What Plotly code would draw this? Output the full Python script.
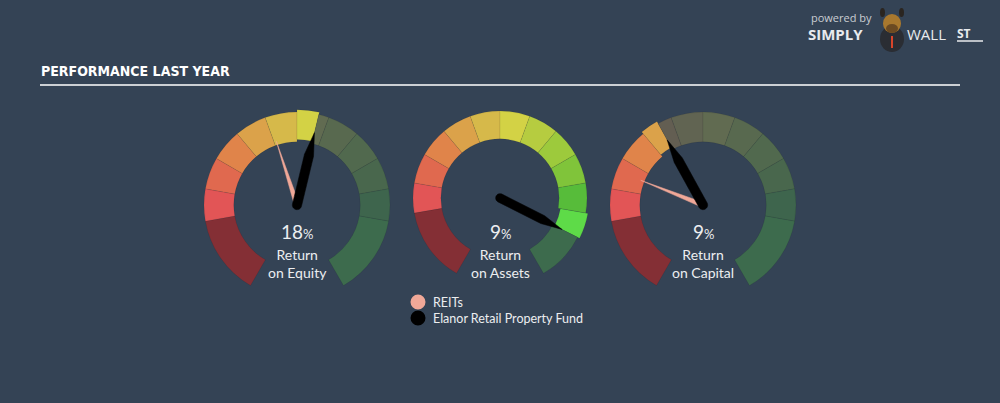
import numpy as np
import plotly.graph_objects as go

# ---------------- data ----------------
metric_labels = ["Return<br>on Equity", "Return<br>on Assets", "Return<br>on Capital"]
company_name = "Elanor Retail Property Fund"
industry_name = "REITs"
company_values = [18, 9, 9]            # %
industry_values = [13.0, None, 4.0]    # %
gauge_max = [31.7, 8.3, 25.3]          # value reached at the end of the coloured scale
title_text = "PERFORMANCE LAST YEAR"

# ---------------- style ----------------
W, H = 1000, 403
BG = "#344355"
TXT = "#eceef0"
slot_edges = [-150, -100, -80, -60, -40, -20, 0, 20, 40, 60, 80, 100, 150]
slot_colors = ["#842f35", "#e25556", "#e0694f", "#e0844a", "#dba24a", "#d6b94a",
               "#d3d245", "#b6cc40", "#9dca3c", "#80c43a", "#57bc3a", "#5edb48"]
DIM_LAST = "#3d6b4d"
A0, A1 = -100, 100
centers = [(297, 205), (500, 198), (703, 205)]
radii = [93, 87, 93]
R_IN, R_OUT, SHIFT, RMAX = 0.68, 1.0, 0.025, 1.05


def hex2rgb(c):
    c = c.lstrip("#")
    return [int(c[i:i + 2], 16) for i in (0, 2, 4)]


def blend(c, a=0.28):
    fg, bg = hex2rgb(c), hex2rgb(BG)
    return "rgb(%d,%d,%d)" % tuple(round(a * f + (1 - a) * b) for f, b in zip(fg, bg))


def to_angle(v, vmax):
    return A0 + (A1 - A0) * v / vmax


def needle(theta, tip, hw, straight, cap):
    if cap:
        pts = [(hw * np.cos(np.radians(t)), hw * np.sin(np.radians(t)))
               for t in np.linspace(90, 270, 19)]
        pts += [(straight, -hw), (tip, 0.0), (straight, hw)]
    else:
        pts = [(0.0, hw), (0.0, -hw), (tip, 0.0)]
    r = [float(np.hypot(d, w)) for d, w in pts]
    th = [theta + float(np.degrees(np.arctan2(w, d))) for d, w in pts]
    r.append(r[0])
    th.append(th[0])
    return r, th


fig = go.Figure()
layout_polars = {}
annotations = []

for i in range(3):
    pname = "polar" if i == 0 else "polar%d" % (i + 1)
    val_ang = to_angle(company_values[i], gauge_max[i])
    th, wd, base, rr, cols = [], [], [], [], []
    for k in range(len(slot_colors)):
        a, b = slot_edges[k], slot_edges[k + 1]
        bright = slot_colors[k]
        dim = DIM_LAST if k == len(slot_colors) - 1 else (bright if k == 0 else blend(bright))
        if val_ang >= b:
            segs = [(a, b, bright, 0)]
        elif val_ang <= a:
            segs = [(a, b, dim, 0)]
        else:
            segs = [(a, val_ang, bright, SHIFT), (val_ang, b, dim, 0)]
        for s0, s1, c, sh in segs:
            th.append((s0 + s1) / 2)
            wd.append(s1 - s0)
            base.append(R_IN + sh)
            rr.append(R_OUT - R_IN)
            cols.append(c)
    fig.add_trace(go.Barpolar(theta=th, width=wd, base=base, r=rr,
                              marker=dict(color=cols, line=dict(color="rgba(0,0,0,0.12)", width=0.6)),
                              subplot=pname, hoverinfo="skip", showlegend=False))
    # industry needle (pink)
    if industry_values[i] is not None:
        ia = to_angle(industry_values[i], gauge_max[i])
        r_, t_ = needle(ia, 0.72, 0.027, 0.0, False)
        fig.add_trace(go.Scatterpolar(r=r_, theta=t_, mode="lines", fill="toself",
                                      fillcolor="#f0a898", line=dict(color="#f0a898", width=0.5),
                                      subplot=pname, hoverinfo="skip", showlegend=False))
    # company needle (black)
    r_, t_ = needle(val_ang, 0.80, 0.05, 0.55, True)
    fig.add_trace(go.Scatterpolar(r=r_, theta=t_, mode="lines", fill="toself",
                                  fillcolor="#000000", line=dict(color="#000000", width=0.5),
                                  subplot=pname, hoverinfo="skip", showlegend=False))

    cx, cy = centers[i]
    rt = radii[i] * RMAX
    layout_polars[pname] = dict(
        domain=dict(x=[(cx - rt) / W, (cx + rt) / W], y=[(H - cy - rt) / H, (H - cy + rt) / H]),
        bgcolor="rgba(0,0,0,0)",
        radialaxis=dict(visible=False, range=[0, RMAX]),
        angularaxis=dict(visible=False, rotation=90, direction="clockwise"),
    )
    # value text
    annotations.append(dict(
        x=cx / W, y=1 - 231 / H, xref="paper", yref="paper", showarrow=False,
        text="%d<span style='font-size:13px'>%%</span>" % round(company_values[i]),
        font=dict(family="Lato", size=19, color=TXT), xanchor="center", yanchor="middle"))
    annotations.append(dict(
        x=cx / W, y=1 - 263 / H, xref="paper", yref="paper", showarrow=False,
        text=metric_labels[i], font=dict(family="Lato", size=14, color=TXT),
        xanchor="center", yanchor="middle"))

# legend
legend_items = [(industry_name, "#f0a898"), (company_name, "#000000")]
shapes = []
for j, (name, col) in enumerate(legend_items):
    yc = 302 + 16 * j
    shapes.append(dict(type="circle", xref="paper", yref="paper", xsizemode="pixel", ysizemode="pixel",
                       xanchor=418 / W, yanchor=1 - yc / H, x0=-7.5, x1=7.5, y0=-7.5, y1=7.5,
                       fillcolor=col, line=dict(width=0)))
    annotations.append(dict(x=431 / W, y=1 - yc / H, xref="paper", yref="paper", showarrow=False,
                            text=name, font=dict(family="Lato", size=12.5, color=TXT),
                            xanchor="left", yanchor="middle"))

# title + rule
annotations.append(dict(x=39 / W, y=1 - 71 / H, xref="paper", yref="paper", showarrow=False,
                        text="<b>%s</b>" % title_text,
                        font=dict(family="'Liberation Sans Narrow', 'DejaVu Sans Condensed', sans-serif",
                                  size=14, color="#ffffff"),
                        xanchor="left", yanchor="middle"))
shapes.append(dict(type="line", xref="paper", yref="paper", x0=40 / W, x1=960 / W,
                   y0=1 - 85 / H, y1=1 - 85 / H, line=dict(color="#ffffff", width=1.5)))

# brand
annotations += [
    dict(x=809 / W, y=1 - 18 / H, xref="paper", yref="paper", showarrow=False, text="powered by",
         font=dict(family="Open Sans", size=11, color="#c9cdd2"), xanchor="left", yanchor="middle"),
    dict(x=806 / W, y=1 - 34 / H, xref="paper", yref="paper", showarrow=False, text="<b>SIMPLY</b>",
         font=dict(family="Open Sans", size=15, color="#e8eaed"), xanchor="left", yanchor="middle"),
    dict(x=905 / W, y=1 - 34 / H, xref="paper", yref="paper", showarrow=False, text="WALL",
         font=dict(family="Open Sans", size=15, color="#e8eaed"), xanchor="left", yanchor="middle"),
    dict(x=955 / W, y=1 - 33 / H, xref="paper", yref="paper", showarrow=False, text="<b>ST</b>",
         font=dict(family="Open Sans", size=12, color="#e8eaed"), xanchor="left", yanchor="middle"),
]
shapes.append(dict(type="line", xref="paper", yref="paper", x0=957 / W, x1=983 / W,
                   y0=1 - 41 / H, y1=1 - 41 / H, line=dict(color="#e8eaed", width=1.5)))


def px_shape(kind, x0, y0, x1, y1, color):
    return dict(type=kind, xref="paper", yref="paper", x0=x0 / W, x1=x1 / W,
                y0=1 - y1 / H, y1=1 - y0 / H, fillcolor=color, line=dict(width=0))


shapes += [
    px_shape("circle", 880, 26, 904, 52, "#2a2d33"),
    px_shape("circle", 883, 14, 901, 33, "#a8782e"),
    px_shape("circle", 886, 24, 898, 33, "#6b4a22"),
    px_shape("circle", 880, 8, 885, 17, "#2a2520"),
    px_shape("circle", 899, 8, 904, 17, "#2a2520"),
    px_shape("rect", 891, 36, 893, 48, "#d9452a"),
]

fig.update_layout(
    width=W, height=H, margin=dict(l=0, r=0, t=0, b=0),
    paper_bgcolor=BG, plot_bgcolor=BG, showlegend=False,
    annotations=annotations, shapes=shapes, **layout_polars,
)

fig.write_html("out.html", config={"displayModeBar": False},
               post_script="document.body.style.margin='0';document.body.style.background='%s';" % BG)
